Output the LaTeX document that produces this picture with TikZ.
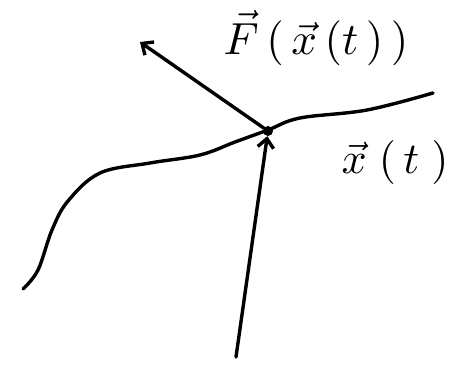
\documentclass[tikz,border=0pt]{standalone}
\usetikzlibrary{arrows.meta}
\begin{document}
\begin{tikzpicture}[x=1pt,y=-1pt,
  pen/.style={line width=3.4pt,line cap=round,line join=round},
  arr/.style={pen,-{Straight Barb[length=9pt,width=16pt,line width=3.4pt]}},
  lbl/.style={inner sep=0pt}]
\useasboundingbox (0,0) rectangle (463,364);
\node[circle,fill,inner sep=0pt,minimum size=10pt] (p) at (268,131) {};
\coordinate (s) at (236,357);
\coordinate (f) at (140,42);
\draw[pen] plot[smooth,tension=0.6] coordinates {(23,289) (38,270) (52,230) (68,201) (100,173) (150,163) (200,155) (235,142) (268,130) (300,118) (367,110) (433,93)};
\draw[arr] (s) -- (p);
\draw[arr] (p) -- (f);
\node[lbl,scale=4.5] (F) at (316,38) {$\vec F\,(\,\vec x\,(t\,)\,)$};
\node[lbl,scale=4.4] (X) at (395,162) {$\vec x\;(\,t\;)$};
\end{tikzpicture}
\end{document}
